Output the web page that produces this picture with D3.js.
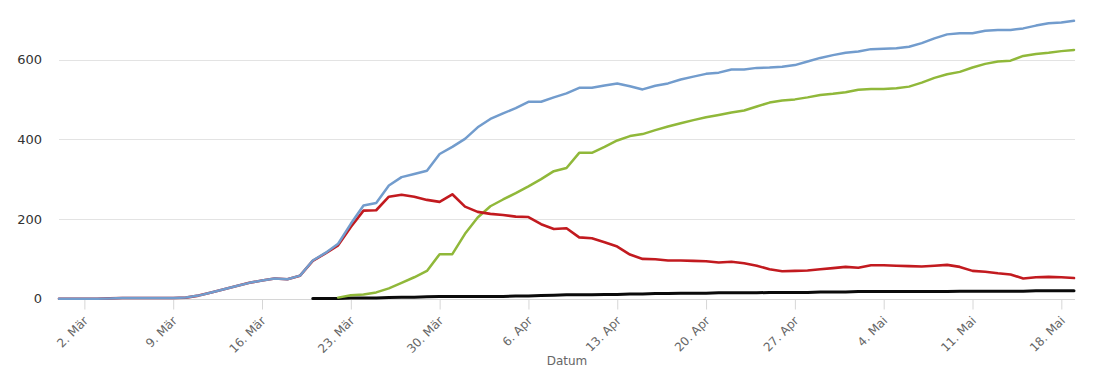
<!DOCTYPE html>
<html>
<head>
<meta charset="utf-8">
<script src="https://cdn.jsdelivr.net/npm/d3@7"></script>
<style>
  html, body { margin: 0; padding: 0; background: #fff; }
  svg { display: block; }
  text { font-family: "DejaVu Sans", Verdana, sans-serif; }
</style>
</head>
<body>
<svg id="chart" width="1110" height="370"></svg>
<script>
// ---- data ----
const startDate = "2020-02-29";
const endDate = "2020-05-19";

const total = [0,0,0,0,1,2,2,2,2,2,3,
  8,16,24,32,40,46,51,49,58,96,
  115,138,188,234,240,284,305,313,321,363,
  381,401,430,451,465,478,494,494,505,515,
  529,529,535,540,533,525,534,540,550,557,
  564,567,575,575,579,580,582,586,595,604,
  611,617,620,626,627,628,632,641,653,663,
  666,666,672,674,674,678,685,691,693,697];

const active = [0,0,0,0,1,2,2,2,2,2,3,
  8,16,24,32,40,46,51,49,58,95,
  114,134,180,221,222,256,261,256,248,243,
  262,231,218,213,210,206,205,187,175,177,
  154,152,142,131,111,100,99,96,96,95,
  94,91,93,89,83,74,69,70,71,74,
  77,80,78,84,84,83,82,81,83,85,
  80,70,68,64,61,51,54,55,54,52];

const recovered = [null,null,null,null,null,null,null,null,null,null,null,
  null,null,null,null,null,null,null,null,null,null,
  null,3,9,11,16,26,40,54,70,112,
  112,163,204,232,249,265,282,300,320,328,
  366,366,381,397,408,413,423,432,440,448,
  455,461,467,472,482,492,497,500,505,511,
  514,518,524,526,526,528,532,542,554,563,
  569,580,589,595,597,609,614,617,621,624];

const deaths = [null,null,null,null,null,null,null,null,null,null,null,
  null,null,null,null,null,null,null,null,null,1,
  1,1,2,2,2,3,4,4,5,6,
  6,6,6,6,6,7,7,8,9,10,
  10,10,11,11,12,12,13,13,14,14,
  14,15,15,15,15,16,16,16,16,17,
  17,17,18,18,18,18,18,18,18,18,
  19,19,19,19,19,19,20,20,20,20];

const tickDates = ["2020-03-02","2020-03-09","2020-03-16","2020-03-23","2020-03-30",
  "2020-04-06","2020-04-13","2020-04-20","2020-04-27","2020-05-04","2020-05-11","2020-05-18"];
const tickLabels = ["2. Mär","9. Mär","16. Mär","23. Mär","30. Mär",
  "6. Apr","13. Apr","20. Apr","27. Apr","4. Mai","11. Mai","18. Mai"];
const yTicks = [0, 200, 400, 600];
const xTitle = "Datum";

// ---- chart ----
const parse = d3.utcParse("%Y-%m-%d");
const dates = d3.utcDay.range(parse(startDate), d3.utcDay.offset(parse(endDate), 1));

const svg = d3.select("#chart");
const left = 59, right = 1075, bottom = 298.8;

const x = d3.scaleUtc().domain([parse(startDate), parse(endDate)]).range([left, right - 1]);
const y = d3.scaleLinear().domain([0, 600]).range([bottom, 59.5]);

// gridlines
svg.append("g").selectAll("line").data(yTicks.filter(v => v > 0)).join("line")
  .attr("x1", left).attr("x2", right)
  .attr("y1", d => Math.round(y(d)) + 0.5).attr("y2", d => Math.round(y(d)) + 0.5)
  .attr("stroke", "#e3e3e3").attr("stroke-width", 1);

// y labels
svg.append("g").selectAll("text").data(yTicks).join("text")
  .attr("x", 42).attr("y", d => y(d)).attr("dy", "0.35em")
  .attr("text-anchor", "end").attr("font-size", 13).attr("fill", "#333")
  .text(d => d);

// x axis
const xAxis = d3.axisBottom(x)
  .tickValues(tickDates.map(parse))
  .tickFormat((d, i) => tickLabels[i])
  .tickSize(10).tickSizeOuter(0);
const gx = svg.append("g").attr("transform", `translate(0,${Math.round(bottom) + 0.5})`).call(xAxis);
gx.select(".domain").attr("stroke", "#d6d6d6").attr("d", `M${left},0H${right}`);
gx.selectAll(".tick line").attr("stroke", "#d6d6d6");
gx.selectAll(".tick text")
  .attr("font-size", 12).attr("fill", "#666")
  .attr("font-family", "DejaVu Sans, sans-serif")
  .attr("text-anchor", "end")
  .attr("transform", "translate(1,19) rotate(-45)")
  .attr("x", 0).attr("y", 0).attr("dy", "0.35em");

// x title
svg.append("text").attr("x", (left + right) / 2).attr("y", 365)
  .attr("text-anchor", "middle").attr("font-size", 12).attr("fill", "#666")
  .text(xTitle);

// lines
const mk = vals => d3.line()
  .defined((d, i) => vals[i] !== null)
  .x((d, i) => x(dates[i]))
  .y((d, i) => y(vals[i]));

const series = [
  { vals: deaths, color: "#0a0a0a", w: 3 },
  { vals: recovered, color: "#90b83a", w: 2.5 },
  { vals: active, color: "#c21a1f", w: 2.6 },
  { vals: total, color: "#729ccd", w: 2.5 }
];
series.forEach(s => {
  svg.append("path").datum(s.vals)
    .attr("d", mk(s.vals))
    .attr("fill", "none").attr("stroke", s.color)
    .attr("stroke-width", s.w).attr("stroke-linejoin", "round").attr("stroke-linecap", "round");
});
</script>
</body>
</html>
